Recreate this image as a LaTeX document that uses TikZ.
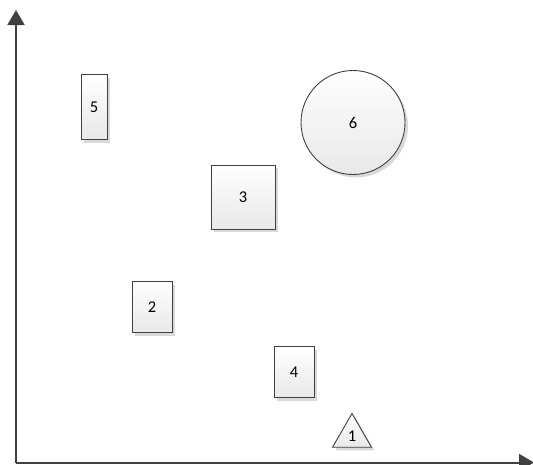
\documentclass[tikz,border=0pt]{standalone}
\usepackage{fontspec}
\setmainfont{Carlito}
\usepackage{xcolor}
\usetikzlibrary{shapes.geometric,shadows,arrows.meta}
\definecolor{edge}{HTML}{404040}
\definecolor{shade}{HTML}{E8E8E8}

\begin{document}
\begin{tikzpicture}[x=1pt,y=-1pt,
  every node/.style={font=\fontsize{16.5}{18}\selectfont},
  item/.style={draw=edge,line width=0.9pt,top color=white,bottom color=shade,
    drop shadow={shadow xshift=3pt,shadow yshift=-3pt,fill=black!15,opacity=1},
    inner sep=0pt},
  box/.style={item,rectangle}]
\useasboundingbox (0,0) rectangle (533,464);
\coordinate (O) at (16,462.5);
\coordinate (ytop) at (16,10);
\coordinate (xend) at (534,462.5);
\draw[edge,line width=2pt,-{Triangle[length=15pt,width=17pt]}] (O) -- (ytop);
\draw[edge,line width=2pt,-{Triangle[length=15pt,width=17pt]}] (O) -- (xend);
\node[box,minimum width=26,minimum height=65] (n5) at (94,107) {5};
\node[item,circle,minimum size=104] (n6) at (353,122.5) {6};
\node[box,minimum width=64,minimum height=64] (n3) at (243,197) {3};
\node[box,minimum width=40,minimum height=51] (n2) at (152,307) {2};
\node[box,minimum width=40,minimum height=51] (n4) at (294,372) {4};
\node[item,regular polygon,regular polygon sides=3,minimum size=45] (n1) at (352,436) {1};
\end{tikzpicture}
\end{document}
